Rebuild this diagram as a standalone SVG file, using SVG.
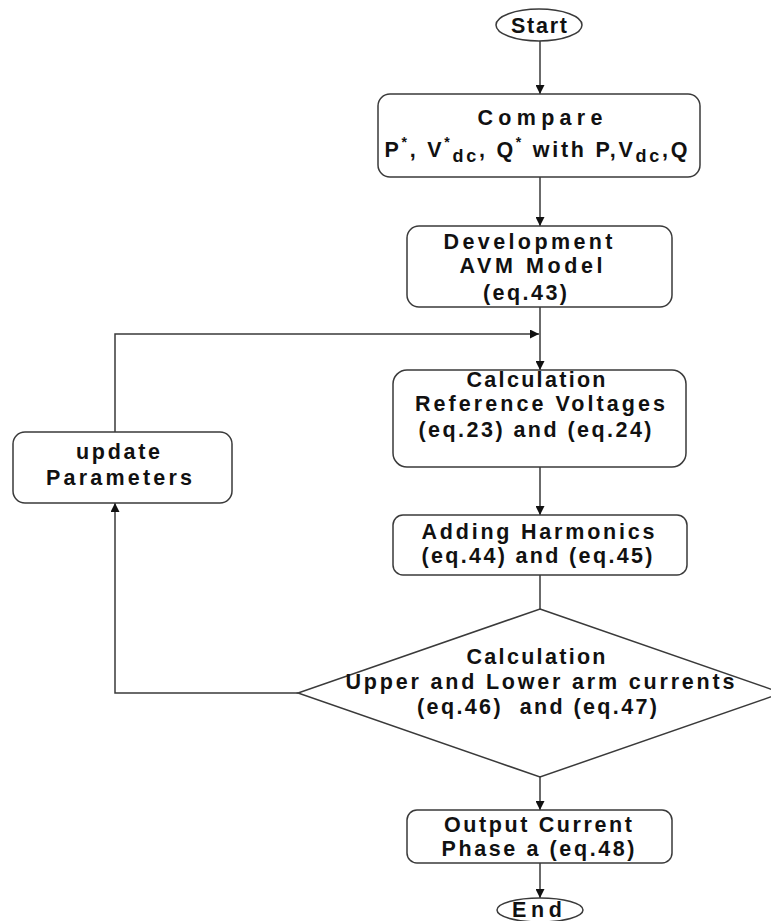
<svg xmlns="http://www.w3.org/2000/svg" width="771" height="921" viewBox="0 0 771 921">
<style>
  .shape { fill: #ffffff; stroke: #3a3a3a; stroke-width: 1.5; }
  .t { font-family: "Liberation Sans", Arial, sans-serif; font-weight: bold; font-size: 21.5px; fill: #111; text-anchor: middle; }
  .conn { fill: none; stroke: #3a3a3a; stroke-width: 1.5; }
</style>
<defs>
  <marker id="ah" viewBox="0 0 10 10" refX="10" refY="5" markerWidth="9" markerHeight="9" markerUnits="userSpaceOnUse" orient="auto">
    <path d="M0,0 L10,5 L0,10 z" fill="#111"/>
  </marker>
</defs>
<rect width="771" height="921" fill="#ffffff"/>

<g id="connectors">
  <line class="conn" x1="540" y1="41" x2="540" y2="94" marker-end="url(#ah)"/>
  <line class="conn" x1="540" y1="177" x2="540" y2="226" marker-end="url(#ah)"/>
  <line class="conn" x1="540" y1="307" x2="540" y2="370" marker-end="url(#ah)"/>
  <polyline class="conn" points="115,432 115,334 539,334" marker-end="url(#ah)"/>
  <line class="conn" x1="540" y1="467" x2="540" y2="515" marker-end="url(#ah)"/>
  <line class="conn" x1="540" y1="575" x2="540" y2="609"/>
  <line class="conn" x1="540" y1="777" x2="540" y2="810" marker-end="url(#ah)"/>
  <polyline class="conn" points="298,693 115,693 115,503" marker-end="url(#ah)"/>
  <line class="conn" x1="540" y1="863" x2="540" y2="898" marker-end="url(#ah)"/>
</g>

<g id="start">
  <ellipse class="shape" cx="539" cy="25" rx="43" ry="16"/>
  <text class="t" x="539" y="33" textLength="56" lengthAdjust="spacing">Start</text>
</g>

<g id="compare">
  <rect class="shape" x="378" y="94" width="322" height="83" rx="12"/>
  <text class="t" x="540" y="125" textLength="125" lengthAdjust="spacing">Compare</text>
  <text class="t" x="536" y="157" textLength="303" lengthAdjust="spacing">P<tspan font-size="14" dy="-10">*</tspan><tspan dy="10">, V</tspan><tspan font-size="14" dy="-10">*</tspan><tspan font-size="18" dy="15">dc</tspan><tspan dy="-5">, Q</tspan><tspan font-size="14" dy="-10">*</tspan><tspan dy="10"> with P,V</tspan><tspan font-size="18" dy="5">dc</tspan><tspan dy="-5">,Q</tspan></text>
</g>

<g id="development">
  <rect class="shape" x="407" y="226" width="265" height="81" rx="12"/>
  <text class="t" x="528" y="249" textLength="169" lengthAdjust="spacing">Development</text>
  <text class="t" x="531" y="273" textLength="143" lengthAdjust="spacing">AVM Model</text>
  <text class="t" x="525" y="300" textLength="84" lengthAdjust="spacing">(eq.43)</text>
</g>

<g id="calc-ref">
  <rect class="shape" x="393" y="370" width="293" height="97" rx="14"/>
  <text class="t" x="536" y="387" textLength="139" lengthAdjust="spacing">Calculation</text>
  <text class="t" x="540" y="411" textLength="250" lengthAdjust="spacing">Reference Voltages</text>
  <text class="t" x="535" y="437" textLength="233" lengthAdjust="spacing">(eq.23) and (eq.24)</text>
</g>

<g id="update">
  <rect class="shape" x="13" y="432" width="219" height="71" rx="12"/>
  <text class="t" x="118" y="459" textLength="84" lengthAdjust="spacing">update</text>
  <text class="t" x="119" y="485" textLength="146" lengthAdjust="spacing">Parameters</text>
</g>

<g id="adding">
  <rect class="shape" x="393" y="515" width="294" height="60" rx="10"/>
  <text class="t" x="538" y="539" textLength="233" lengthAdjust="spacing">Adding Harmonics</text>
  <text class="t" x="537" y="563" textLength="231" lengthAdjust="spacing">(eq.44) and (eq.45)</text>
</g>

<g id="calc-arm">
  <polygon class="shape" points="540,609 782,693 540,777 298,693"/>
  <text class="t" x="536" y="664" textLength="139" lengthAdjust="spacing">Calculation</text>
  <text class="t" x="540" y="689" textLength="389" lengthAdjust="spacing">Upper and Lower arm currents</text>
  <text class="t" x="537" y="714" textLength="240" lengthAdjust="spacing">(eq.46)&#160; and (eq.47)</text>
</g>

<g id="output">
  <rect class="shape" x="407" y="810" width="265" height="53" rx="10"/>
  <text class="t" x="538" y="832" textLength="188" lengthAdjust="spacing">Output Current</text>
  <text class="t" x="538" y="856" textLength="193" lengthAdjust="spacing">Phase a (eq.48)</text>
</g>

<g id="end">
  <ellipse class="shape" cx="540" cy="910" rx="43" ry="12"/>
  <text class="t" x="537" y="917" textLength="50" lengthAdjust="spacing">End</text>
</g>
</svg>
